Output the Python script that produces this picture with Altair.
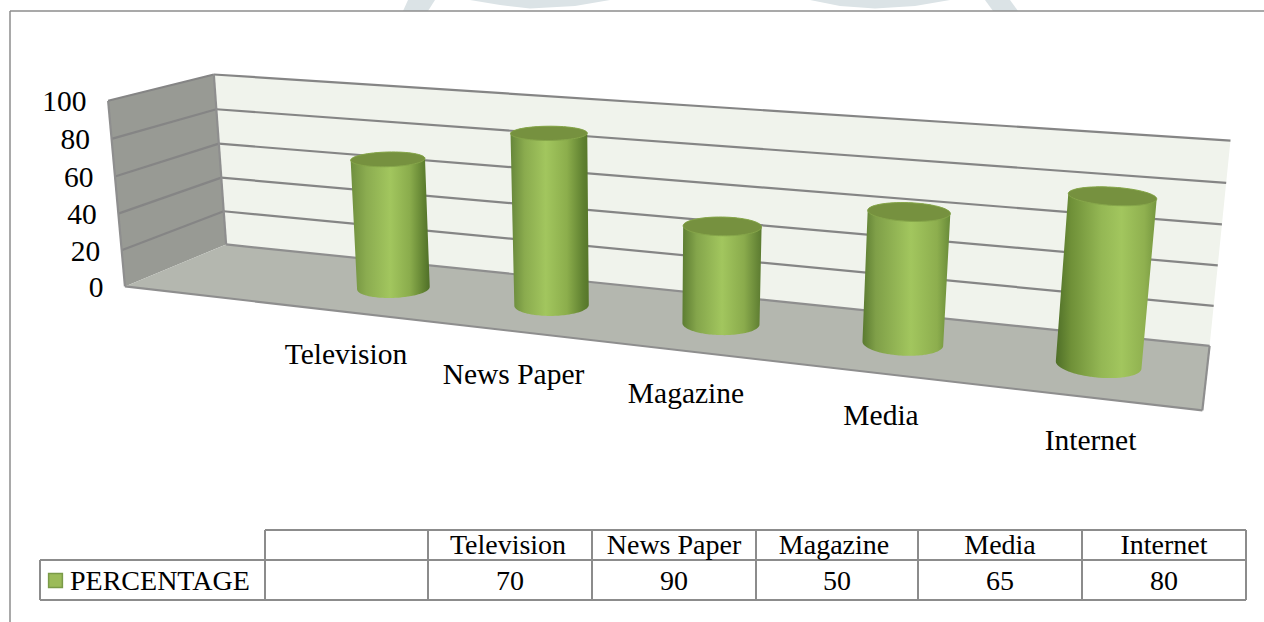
import altair as alt
import numpy as np
import pandas as pd

# Chart values
categories = ["", "Television", "News Paper", "Magazine", "Media", "Internet"]
percentages = [None, 70, 90, 50, 65, 80]
axis_ticks = [0, 20, 40, 60, 80, 100]
series_name = "PERCENTAGE"

# Camera: where the corners of the plot box (category, value, depth) land on the page
BOX_CORNERS = [
    ((0, 100, 0), (108, 100)),
    ((0, 0, 0), (125, 286)),
    ((0, 100, 1), (214, 75)),
    ((0, 0, 1), (226, 245)),
    ((6, 100, 1), (1230, 139)),
    ((6, 0, 1), (1210, 346)),
    ((6, 0, 0), (1202, 410)),
    ((6, 100, 0), (1226, 184)),
]


def fit_camera(corners):
    rows = []
    for (c, v, d), (u, w) in corners:
        X = [c / 6, v / 100, d, 1.0]
        u, w = u / 1000, w / 1000
        rows.append(X + [0, 0, 0, 0] + [-u * a for a in X])
        rows.append([0, 0, 0, 0] + X + [-w * a for a in X])
    _, _, vt = np.linalg.svd(np.array(rows))
    return vt[-1].reshape(3, 4)


CAMERA = fit_camera(BOX_CORNERS)


def project(c, v, d):
    h = CAMERA @ np.array([c / 6, v / 100, d, 1.0])
    return (float(h[0] / h[2] * 1000), float(h[1] / h[2] * 1000))


# Shared page-sized scales
X_SCALE = alt.Scale(domain=[0, 1264], range=[0, 1264], nice=False, zero=False)
Y_SCALE = alt.Scale(domain=[0, 622], range=[0, 622], nice=False, zero=False)
X = alt.X("x:Q", scale=X_SCALE, axis=None)
Y = alt.Y("y:Q", scale=Y_SCALE, axis=None, stack=None)


def hull(points):
    pts = sorted(set((round(a, 3), round(b, 3)) for a, b in points))

    def half(seq):
        out = []
        for p in seq:
            while len(out) >= 2 and (
                (out[-1][0] - out[-2][0]) * (p[1] - out[-2][1])
                - (out[-1][1] - out[-2][1]) * (p[0] - out[-2][0])
            ) <= 0:
                out.pop()
            out.append(p)
        return out

    lower = half(pts)
    upper = half(pts[::-1])[::-1]
    return lower, upper


def convex_area(points, **mark):
    """Filled convex outline drawn as an area between its two hull chains."""
    a, b = hull(points)
    xs = sorted(set(p[0] for p in a) | set(p[0] for p in b))
    ya = np.interp(xs, [p[0] for p in a], [p[1] for p in a])
    yb = np.interp(xs, [p[0] for p in b], [p[1] for p in b])
    df = pd.DataFrame({"x": xs, "y": ya, "y2": yb})
    return alt.Chart(df).mark_area(**mark).encode(x=X, y=Y, y2=alt.Y2("y2:Q"))


def segments(pairs, color, width):
    df = pd.DataFrame(
        [{"x": a[0], "y": a[1], "x2": b[0], "y2": b[1]} for a, b in pairs]
    )
    return alt.Chart(df).mark_rule(color=color, strokeWidth=width).encode(
        x=X, y=Y, x2=alt.X2("x2:Q"), y2=alt.Y2("y2:Q")
    )


def labels(df, size, align="center"):
    return alt.Chart(df).mark_text(
        font="Liberation Serif", fontSize=size, align=align,
        baseline="alphabetic", color="#000000",
    ).encode(x=X, y=Y, text="t:N")


layers = []

# Faint shapes printed on the page behind the chart box
WASH = "#dbe3e6"
wash_shapes = [
    [(408, 0), (435, 0), (428, 11), (403, 11)],
    [(470, 0), (500, 5), (530, 8.5), (575, 6), (610, 0)],
    [(810, 0), (840, 6), (875, 8.5), (915, 6), (950, 0)],
    [(985, 0), (1010, 0), (1018, 11), (993, 11)],
]
for shape in wash_shapes:
    layers.append(convex_area(shape, color=WASH))

# Chart box: only its top and left edges fall on the page
layers.append(segments([((10, 11), (1264, 11)), ((10, 11), (10, 622))], "#8c8c8c", 1.5))

# Walls and floor of the plot box
left_wall = [project(0, 100, 0), project(0, 100, 1), project(0, 0, 1), project(0, 0, 0)]
back_wall = [project(0, 100, 1), project(6, 100, 1), project(6, 0, 1), project(0, 0, 1)]
floor = [project(0, 0, 0), project(0, 0, 1), project(6, 0, 1), project(6, 0, 0)]
layers.append(convex_area(left_wall, color="#989a94"))
layers.append(convex_area(back_wall, color="#f0f3ec"))
layers.append(convex_area(floor, color="#b4b7af"))

# Gridlines at each tick on the two walls
grid = []
for v in axis_ticks:
    if v > 0:
        grid.append((project(0, v, 1), project(6, v, 1)))
        grid.append((project(0, v, 0), project(0, v, 1)))
layers.append(segments(grid, "#858585", 2.2))
edges = [
    (project(0, 100, 0), project(0, 0, 0)),
    (project(0, 0, 0), project(6, 0, 0)),
    (project(6, 0, 0), project(6, 0, 1)),
    (project(0, 0, 1), project(6, 0, 1)),
    (project(0, 0, 1), project(0, 100, 1)),
]
layers.append(segments(edges, "#8e8e8e", 2.2))

# Axis numbers sit just left of the front edge of the left wall
tick_rows = []
for v in axis_ticks:
    px, py = project(0, v, 0)
    tick_rows.append({"x": px - 21.5, "y": py + 10.5, "t": str(v)})
layers.append(labels(pd.DataFrame(tick_rows), 29.5, "right"))

# One shading ramp per cylinder, turning as the light moves across the box
body_stops = {
    "Television": [(0, "#6f8f3e"), (0.2, "#8bac50"), (0.5, "#a2c65e"), (0.75, "#8aac4c"), (0.93, "#5f8030"), (1, "#4f6f28")],
    "News Paper": [(0, "#66863a"), (0.18, "#8aab4e"), (0.45, "#a2c65e"), (0.72, "#8cae4c"), (0.93, "#5f8030"), (1, "#567629")],
    "Magazine": [(0, "#5d7d32"), (0.18, "#84a54b"), (0.5, "#a2c65e"), (0.78, "#8aab4c"), (1, "#5b7a30")],
    "Media": [(0, "#5a7a30"), (0.15, "#7f9f48"), (0.55, "#a2c65e"), (0.85, "#8dae4e"), (1, "#688a38")],
    "Internet": [(0, "#4f6f28"), (0.15, "#6f9038"), (0.45, "#94b754"), (0.65, "#a2c65e"), (0.88, "#8fb04f"), (1, "#75963f")],
}

RADIUS_C, RADIUS_D = 0.21, 0.2
angles = np.linspace(0, 2 * np.pi, 64, endpoint=False)
for i, (name, value) in enumerate(zip(categories, percentages)):
    if value is None:
        continue
    cx = i + 0.48
    base = [project(cx + RADIUS_C * np.cos(t), 0, 0.5 + RADIUS_D * np.sin(t)) for t in angles]
    top = [project(cx + RADIUS_C * np.cos(t), value, 0.5 + RADIUS_D * np.sin(t)) for t in angles]
    ramp = alt.LinearGradient(
        gradient="linear", x1=0, x2=1, y1=0, y2=0,
        stops=[alt.GradientStop(color=c, offset=o) for o, c in body_stops[name]],
    )
    layers.append(convex_area(base + top, color=ramp))
    layers.append(convex_area(top, color="#76913f", stroke="#86a64a", strokeWidth=1))

# Category names under the floor
floor_label_x = [346, 513.5, 686, 881, 1090.5]
floor_label_y = [364, 384, 403, 425, 450]
layers.append(labels(pd.DataFrame(
    {"x": floor_label_x, "y": floor_label_y, "t": categories[1:]}
), 29.5))

# Data table
column_edges = [265, 428, 592, 756, 918, 1082, 1246]
TABLE_TOP, TABLE_MID, TABLE_BOTTOM, KEY_LEFT = 530, 560, 600, 40
table_lines = [
    ((column_edges[0], TABLE_TOP), (column_edges[-1], TABLE_TOP)),
    ((KEY_LEFT, TABLE_MID), (column_edges[-1], TABLE_MID)),
    ((KEY_LEFT, TABLE_BOTTOM), (column_edges[-1], TABLE_BOTTOM)),
    ((KEY_LEFT, TABLE_MID), (KEY_LEFT, TABLE_BOTTOM)),
]
table_lines += [((e, TABLE_TOP), (e, TABLE_BOTTOM)) for e in column_edges]
layers.append(segments(table_lines, "#8c8c8c", 2))

centres = [(a + b) / 2 for a, b in zip(column_edges[:-1], column_edges[1:])]
head_centres = [c + n for c, n in zip(centres[1:], [-2, 0, -3, 0, 0])]
head = pd.DataFrame({"x": head_centres, "y": 553.5, "t": categories[1:]})
body = pd.DataFrame({"x": centres[1:], "y": 590, "t": [str(v) for v in percentages[1:]]})
layers.append(labels(head, 28))
layers.append(labels(body, 28))
layers.append(labels(pd.DataFrame({"x": [70], "y": [590], "t": [series_name]}), 28, "left"))

# Legend key
layers.append(
    alt.Chart(pd.DataFrame({"x": [55.5], "y": [580.5]}))
    .mark_square(size=190, color="#9bbb59", stroke="#7a9a48", strokeWidth=1.5, opacity=1)
    .encode(x=X, y=Y)
)

chart = (
    alt.layer(*layers)
    .properties(width=1264, height=622, padding=0, background="#ffffff",
                autosize=alt.AutoSizeParams(type="none"))
    .configure_view(stroke=None)
)
chart.save("out.html", embed_options={"renderer": "svg", "actions": False})
